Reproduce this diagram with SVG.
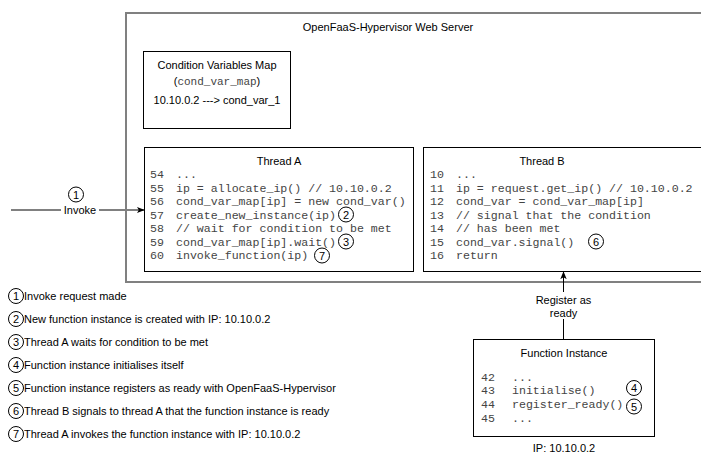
<svg xmlns="http://www.w3.org/2000/svg" width="701" height="453" viewBox="0 0 701 453">
<defs>
<style>
.box{fill:#fff;stroke:#000;stroke-width:1}
.t{font-family:"Liberation Sans",Arial,sans-serif;font-size:11px;fill:#000}
.c{font-family:"Liberation Mono","Courier New",monospace;font-size:11.6px;fill:#444}
.n{fill:#fff;stroke:#000;stroke-width:1}
.nt{font-family:"Liberation Sans",Arial,sans-serif;font-size:11px;fill:#000;text-anchor:middle}
.mid{text-anchor:middle}
</style>
<marker id="arr" viewBox="0 0 10 10" refX="9" refY="5" markerWidth="8" markerHeight="8" markerUnits="userSpaceOnUse" orient="auto">
<path d="M0,1 L10,5 L0,9 L2.5,5 Z" fill="#000"/>
</marker>
</defs>
<rect width="701" height="453" fill="#fff"/>

<g id="server">
<rect x="126" y="13" width="600" height="269" fill="#fff" stroke="#808080" stroke-width="2"/>
<text class="t mid" x="388" y="31">OpenFaaS-Hypervisor Web Server</text>
</g>

<g id="condmap">
<rect class="box" x="143.5" y="51.5" width="147" height="77"/>
<text class="t mid" x="217" y="69">Condition Variables Map</text>
<text class="t mid" x="217" y="85">(<tspan class="c" style="font-size:11px">cond_var_map</tspan>)</text>
<text class="t mid" x="217" y="104">10.10.0.2 ---&gt; cond_var_1</text>
</g>

<g id="threadA">
<rect class="box" x="144.5" y="147.5" width="269" height="124"/>
<text class="t mid" x="279" y="165">Thread A</text>
<text class="c" x="150" y="178">54</text><text class="c" x="176" y="178">...</text>
<text class="c" x="150" y="191.5">55</text><text class="c" x="176" y="191.5">ip = allocate_ip() // 10.10.0.2</text>
<text class="c" x="150" y="205">56</text><text class="c" x="176" y="205">cond_var_map[ip] = new cond_var()</text>
<text class="c" x="150" y="218.5">57</text><text class="c" x="176" y="218.5">create_new_instance(ip)</text>
<text class="c" x="150" y="232">58</text><text class="c" x="176" y="232">// wait for condition to be met</text>
<text class="c" x="150" y="245.5">59</text><text class="c" x="176" y="245.5">cond_var_map[ip].wait()</text>
<text class="c" x="150" y="259">60</text><text class="c" x="176" y="259">invoke_function(ip)</text>
<circle class="n" cx="346" cy="214.5" r="7.5"/><text class="nt" x="346" y="218.5">2</text>
<circle class="n" cx="346" cy="241.5" r="7.5"/><text class="nt" x="346" y="245.5">3</text>
<circle class="n" cx="322" cy="255.5" r="7.5"/><text class="nt" x="322" y="259.5">7</text>
</g>

<g id="threadB">
<rect class="box" x="423.5" y="147.5" width="300" height="124"/>
<text class="t mid" x="542" y="165">Thread B</text>
<text class="c" x="430" y="178">10</text><text class="c" x="456" y="178">...</text>
<text class="c" x="430" y="191.5">11</text><text class="c" x="456" y="191.5">ip = request.get_ip() // 10.10.0.2</text>
<text class="c" x="430" y="205">12</text><text class="c" x="456" y="205">cond_var = cond_var_map[ip]</text>
<text class="c" x="430" y="218.5">13</text><text class="c" x="456" y="218.5">// signal that the condition</text>
<text class="c" x="430" y="232">14</text><text class="c" x="456" y="232">// has been met</text>
<text class="c" x="430" y="245.5">15</text><text class="c" x="456" y="245.5">cond_var.signal()</text>
<text class="c" x="430" y="259">16</text><text class="c" x="456" y="259">return</text>
<circle class="n" cx="596" cy="241.5" r="7.5"/><text class="nt" x="596" y="245.5">6</text>
</g>

<g id="funcInstance">
<rect class="box" x="473.5" y="339.5" width="181" height="97"/>
<text class="t mid" x="564" y="357">Function Instance</text>
<text class="c" x="481" y="381">42</text><text class="c" x="512" y="381">...</text>
<text class="c" x="481" y="394">43</text><text class="c" x="512" y="394">initialise()</text>
<text class="c" x="481" y="408">44</text><text class="c" x="512" y="408">register_ready()</text>
<text class="c" x="481" y="422">45</text><text class="c" x="512" y="422">...</text>
<circle class="n" cx="634" cy="388" r="7.5"/><text class="nt" x="634" y="392">4</text>
<circle class="n" cx="634" cy="406.5" r="7.5"/><text class="nt" x="634" y="410.5">5</text>
<text class="t mid" x="564" y="451.5">IP: 10.10.0.2</text>
</g>

<g id="connectors">
<line x1="11" y1="210" x2="144" y2="210" stroke="#808080" stroke-width="2" marker-end="url(#arr)"/>
<rect x="61" y="204" width="38" height="13" fill="#fff"/>
<text class="t mid" x="80" y="214">Invoke</text>
<circle class="n" cx="76" cy="194.5" r="7.5"/><text class="nt" x="76" y="198.5">1</text>
<line x1="563.5" y1="339" x2="563.5" y2="272" stroke="#000" stroke-width="1" marker-end="url(#arr)"/>
<rect x="533" y="292" width="61" height="27" fill="#fff"/>
<text class="t mid" x="563.5" y="303.5">Register as</text>
<text class="t mid" x="563.5" y="317">ready</text>
</g>

<g id="legend">
<circle class="n" cx="16" cy="296" r="7.5"/><text class="nt" x="16" y="300">1</text><text class="t" x="24" y="300">Invoke request made</text>
<circle class="n" cx="16" cy="319" r="7.5"/><text class="nt" x="16" y="323">2</text><text class="t" x="24" y="323">New function instance is created with IP: 10.10.0.2</text>
<circle class="n" cx="16" cy="342" r="7.5"/><text class="nt" x="16" y="346">3</text><text class="t" x="24" y="346">Thread A waits for condition to be met</text>
<circle class="n" cx="16" cy="365" r="7.5"/><text class="nt" x="16" y="369">4</text><text class="t" x="24" y="369">Function instance initialises itself</text>
<circle class="n" cx="16" cy="388" r="7.5"/><text class="nt" x="16" y="392">5</text><text class="t" x="24" y="392">Function instance registers as ready with OpenFaaS-Hypervisor</text>
<circle class="n" cx="16" cy="411" r="7.5"/><text class="nt" x="16" y="415">6</text><text class="t" x="24" y="415">Thread B signals to thread A that the function instance is ready</text>
<circle class="n" cx="16" cy="434" r="7.5"/><text class="nt" x="16" y="438">7</text><text class="t" x="24" y="438">Thread A invokes the function instance with IP: 10.10.0.2</text>
</g>
</svg>
